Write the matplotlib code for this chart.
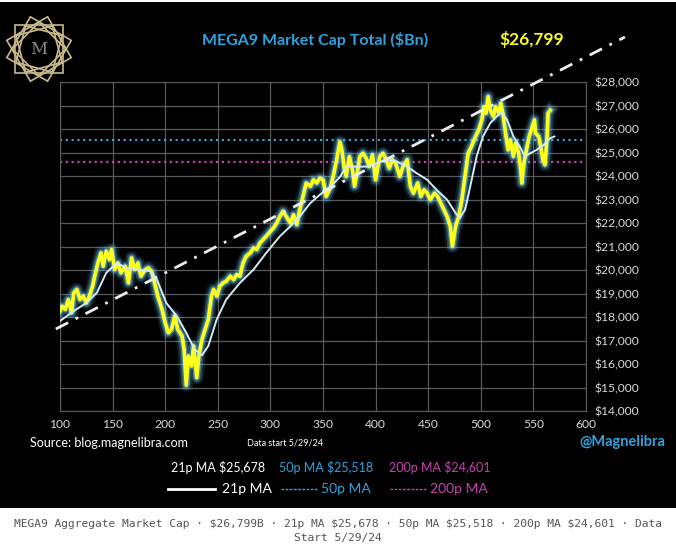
import numpy as np
import matplotlib
matplotlib.use("Agg")
import matplotlib.pyplot as plt
from matplotlib.patches import Rectangle, Polygon, Circle
from matplotlib.ticker import FuncFormatter

plt.rcParams["font.family"] = ["Lato", "DejaVu Sans"]

# ---- data ----
price_x = [100, 102, 105, 108, 111, 113, 116, 119, 122, 125, 128, 131, 133, 136, 139, 141,
           144, 147, 149, 152, 155, 158, 162, 165, 168, 171, 174, 177, 181, 184, 187, 190,
           193, 197, 200, 203, 206, 209, 212, 216, 218, 220, 222, 225, 227, 230, 232, 235,
           238, 241, 244, 246, 249, 252, 255, 258, 262, 265, 268, 271, 274, 277, 281, 284,
           287, 290, 293, 296, 300, 303, 306, 309, 312, 315, 319, 322, 325, 328, 331, 334,
           338, 341, 344, 347, 350, 353, 357, 360, 363, 366, 368, 370, 372, 375, 378, 380,
           383, 385, 388, 391, 394, 397, 400, 404, 407, 410, 413, 416, 419, 423, 426, 430,
           433, 436, 440, 443, 446, 449, 452, 456, 459, 462, 465, 468, 471, 473, 476, 479,
           482, 485, 488, 491, 495, 498, 501, 503, 505, 507, 509, 512, 514, 517, 519, 521,
           524, 526, 528, 531, 533, 536, 538, 539, 541, 544, 546, 548, 551, 552, 555, 557,
           559, 561, 563, 564, 566]
price_y = [18250, 18460, 18320, 18745, 18180, 19030, 19170, 18745, 18890, 18600, 18890, 19310, 19735, 20300, 20730, 20160,
           20800, 20440, 20870, 20020, 20300, 19880, 20160, 19450, 20515, 20020, 20300, 19735, 20020, 20090, 19950, 19450,
           18890, 18320, 17755, 17330, 17470, 18040, 17470, 17190, 16620, 15100, 16340, 15915, 16765, 15420, 16340, 17050,
           17470, 17900, 18890, 19170, 18890, 19310, 19450, 19520, 19735, 19590, 19805, 19735, 20300, 20585, 20730, 20940,
           20870, 21150, 21290, 21435, 21650, 21790, 22000, 22280, 22500, 22280, 22000, 22350, 21930, 22570, 23130, 23700,
           23560, 23840, 23700, 23910, 23840, 23130, 23500, 24050, 24690, 25450, 25110, 24400, 23980, 24830, 24260, 23560,
           24260, 24830, 24970, 24760, 24400, 24900, 23840, 24830, 24970, 24690, 24330, 24690, 24550, 23980, 24400, 24690,
           23560, 23270, 23700, 23130, 23410, 23270, 22990, 23270, 23130, 22850, 22570, 22280, 21860, 21010, 21860, 22280,
           22990, 23980, 24970, 25250, 25680, 25960, 26390, 26950, 26670, 27380, 26810, 26530, 26950, 26670, 27100, 26670,
           25680, 25110, 25540, 24830, 25400, 24970, 24260, 23700, 24550, 25250, 25680, 25960, 26390, 25820, 25680, 25250,
           24690, 24480, 25680, 26670, 26800]

ma21_x = [100, 113, 125, 135, 144, 154, 163, 173, 186, 192, 201, 211, 220, 228, 235, 241,
          249, 258, 271, 284, 296, 309, 319, 328, 338, 347, 357, 366, 372, 382, 392, 401,
          411, 420, 430, 439, 449, 458, 468, 476, 480, 485, 490, 496, 502, 509, 515, 520,
          525, 531, 537, 542, 547, 553, 560, 566, 570]
ma21_y = [17830, 18250, 18600, 19030, 19880, 20300, 20090, 20020, 19950, 19600, 18600, 18040, 17330, 16620, 16370, 16770,
          17900, 18745, 19450, 20020, 20725, 21435, 21860, 22280, 22850, 23200, 23550, 23950, 24400, 24400, 24400, 24550,
          24690, 24620, 24400, 24120, 23840, 23410, 22990, 22420, 22210, 22560, 23560, 24830, 25680, 26250, 26530, 26700,
          26390, 25680, 25250, 24830, 24970, 25110, 25330, 25610, 25680]

trend_x = [96, 637]
trend_y = [17490, 29915]

last_price = 26799
ma21_last = 25678
ma50_last = 25518
ma200_last = 24601

x_ticks = [100, 150, 200, 250, 300, 350, 400, 450, 500, 550, 600]
y_ticks = list(range(14000, 28001, 1000))

C_BLUE = "#2ea3e0"
C_MAG = "#cc3fb0"
C_YEL = "#ffff1a"
C_MA = "#d2eaf8"
C_TXT = "#d9d9d9"

W, H = 676, 549
fig = plt.figure(figsize=(W / 100, H / 100), dpi=100)
fig.patch.set_facecolor("white")


def fx(px):
    return px / W


def fy(py):
    return 1 - py / H


# black panel behind everything
fig.patches.append(Rectangle((0, fy(508)), 1, fy(2) - fy(508), transform=fig.transFigure,
                             facecolor="black", edgecolor="none", zorder=-10))

# ---- main axes ----
ax = fig.add_axes([fx(60), fy(411), fx(586) - fx(60), fy(82) - fy(411)], zorder=2)
ax.set_facecolor("black")
ax.set_xlim(100, 600)
ax.set_ylim(14000, 28000)
ax.set_xticks(x_ticks)
ax.set_yticks(y_ticks)
ax.yaxis.tick_right()
ax.yaxis.set_major_formatter(FuncFormatter(lambda v, p: f"${v:,.0f}"))
ax.tick_params(length=0, colors=C_TXT, labelsize=8.7, pad=6)
ax.grid(True, color="#5a5a5a", lw=0.9)
ax.set_axisbelow(True)
for s in ax.spines.values():
    s.set_color("#5a5a5a")

ax.axhline(ma50_last, color=C_BLUE, ls=(0, (1, 1.6)), lw=1.6, zorder=2)
ax.axhline(ma200_last, color=C_MAG, ls=(0, (1, 1.6)), lw=1.6, zorder=2)

# glow + price line
for lw, a in [(10, 0.12), (7, 0.25), (4.5, 0.45)]:
    ax.plot(price_x, price_y, color="#6fd0ff", lw=lw, alpha=a, solid_joinstyle="round", zorder=3)
ax.plot(price_x, price_y, color=C_YEL, lw=2.6, solid_joinstyle="round", zorder=4)
ax.plot(ma21_x, ma21_y, color=C_MA, lw=1.4, zorder=5)
ax.plot(trend_x, trend_y, color="#ececec", lw=2, dashes=(5, 3, 1, 3), clip_on=False, zorder=6)

# ---- logo ----
lax = fig.add_axes([fx(4), fy(84), fx(70), fy(0) - fy(70)], zorder=3)
lax.set_xlim(-1.05, 1.05)
lax.set_ylim(-1.05, 1.05)
lax.set_aspect("equal")
lax.axis("off")
for size, rots in [(1.0, [0, 30, 60]), (0.8, [15, 45, 75])]:
    for r in rots:
        ang = np.deg2rad(np.array([45, 135, 225, 315]) + r)
        pts = np.c_[size * np.cos(ang), size * np.sin(ang)]
        lax.add_patch(Polygon(pts, closed=True, fill=False, ec="#c9b98a", lw=1.2))
lax.add_patch(Circle((0, 0), 0.42, color="black", zorder=3))
lax.text(0, -0.02, "M", color="#8a8a8a", fontsize=12, ha="center", va="center", zorder=4,
         family="DejaVu Serif")

# ---- texts ----
fig.text(fx(315), fy(40), "MEGA9 Market Cap Total ($Bn)", color=C_BLUE, fontsize=11.5,
         fontweight="bold", ha="center", va="center")
fig.text(fx(532), fy(39), f"${last_price:,}", color=C_YEL, fontsize=12.5,
         fontweight="bold", ha="center", va="center")
fig.text(fx(30), fy(443), "Source: blog.magnelibra.com", color="white", fontsize=9, va="center")
fig.text(fx(285), fy(443), "Data start 5/29/24", color="white", fontsize=6.5, ha="center", va="center")
fig.text(fx(622), fy(442), "@Magnelibra", color=C_BLUE, fontsize=10.5, fontweight="bold",
         ha="center", va="center")

fig.text(fx(218), fy(467), f"21p MA ${ma21_last:,}", color="white", fontsize=9, ha="center", va="center")
fig.text(fx(326), fy(467), f"50p MA ${ma50_last:,}", color=C_BLUE, fontsize=9, ha="center", va="center")
fig.text(fx(440), fy(467), f"200p MA ${ma200_last:,}", color=C_MAG, fontsize=9, ha="center", va="center")

fig.add_artist(plt.Line2D([fx(168), fx(215)], [fy(489), fy(489)], color="white", lw=2,
                          transform=fig.transFigure))
fig.text(fx(222), fy(489), "21p MA", color="white", fontsize=10, va="center")
fig.add_artist(plt.Line2D([fx(281), fx(318)], [fy(489), fy(489)], color=C_BLUE, lw=1,
                          ls=(0, (2, 1)), transform=fig.transFigure))
fig.text(fx(321), fy(489), "50p MA", color=C_BLUE, fontsize=10, va="center")
fig.add_artist(plt.Line2D([fx(390), fx(427)], [fy(489), fy(489)], color=C_MAG, lw=1,
                          ls=(0, (2, 1)), transform=fig.transFigure))
fig.text(fx(430), fy(489), "200p MA", color=C_MAG, fontsize=10, va="center")

caption = (f"MEGA9 Aggregate Market Cap \u00b7 ${last_price:,}B \u00b7 21p MA ${ma21_last:,} \u00b7 "
           f"50p MA ${ma50_last:,} \u00b7 200p MA ${ma200_last:,} \u00b7 Data\nStart 5/29/24")
fig.text(0.5, fy(531), caption, color="#555555", fontsize=8.1, family="DejaVu Sans Mono",
         ha="center", va="center", linespacing=1.55, parse_math=False)

fig.savefig("out.png", dpi=100, facecolor=fig.get_facecolor())
